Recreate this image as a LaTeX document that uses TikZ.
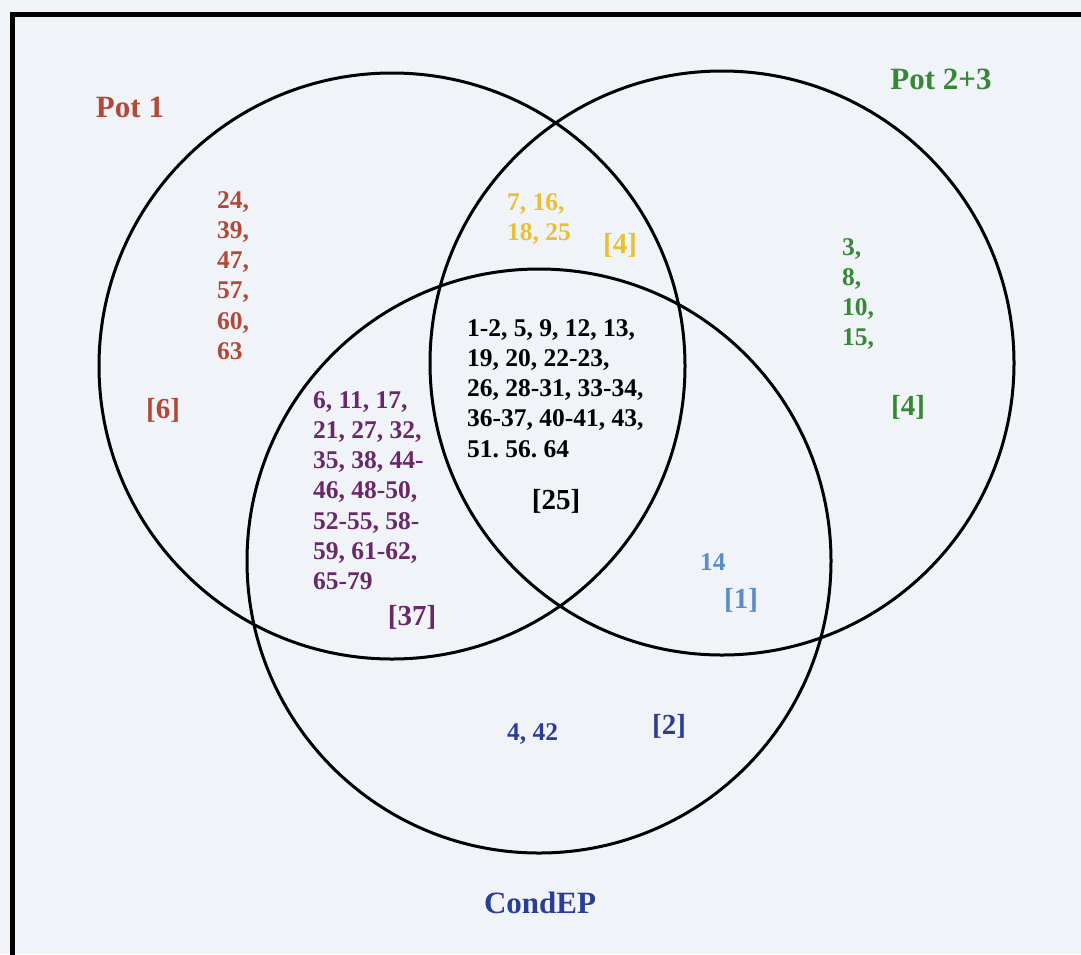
\documentclass[tikz,border=0pt]{standalone}
\usepackage{fontspec}
\setmainfont{Liberation Serif}
\frenchspacing
\definecolor{bgc}{RGB}{240,243,247}
\definecolor{potred}{RGB}{178,72,56}
\definecolor{potgold}{RGB}{232,192,52}
\definecolor{potpurple}{RGB}{105,40,105}
\definecolor{potgreen}{RGB}{55,135,55}
\definecolor{potlblue}{RGB}{90,140,200}
\definecolor{potblue}{RGB}{42,62,150}
\tikzset{
  vcircle/.style={circle, draw=black, line width=3pt, inner sep=0pt, minimum size=#1},
  setlabel/.style={font=\fontsize{31}{34}\selectfont\bfseries, inner sep=0pt},
  numlist/.style={font=\fontsize{25.5}{30.3}\selectfont\bfseries, inner sep=0pt, align=left, anchor=north west},
  countlabel/.style={font=\fontsize{29}{32}\selectfont\bfseries, inner sep=0pt},
  numone/.style={font=\fontsize{25.5}{30}\selectfont\bfseries, inner sep=0pt, anchor=base west}
}
\begin{document}
\begin{tikzpicture}[x=1pt, y=-1pt]
\useasboundingbox (0,0) rectangle (1081,954);
\fill[bgc] (0,0) rectangle (1081,954);
% frame
\coordinate (fbl) at (12,960);
\coordinate (ftl) at (12,14.5);
\coordinate (ftr) at (1090,14.5);
\draw[line width=5pt] (fbl) -- (ftl) -- (ftr);
% circles
\node[vcircle=586pt] (pot1c) at (392,366) {};
\node[vcircle=584pt] (pot23c) at (722,363) {};
\node[vcircle=584pt] (condc) at (539,561) {};
% set labels
\node[setlabel, text=potred] (lpot1) at (130,107) {Pot 1};
\node[setlabel, text=potgreen] (lpot23) at (941,79) {Pot 2+3};
\node[setlabel, text=potblue] (lcond) at (540,903) {CondEP};
% Pot 1 only
\node[numlist, text=potred] (n1) at (217,191) {24,\\39,\\47,\\57,\\60,\\63};
\node[countlabel, text=potred] (c1) at (163,410) {[6]};
% Pot 1 and Pot 2+3
\node[numlist, text=potgold] (n12) at (507,193) {7, 16,\\18, 25};
\node[countlabel, text=potgold] (c12) at (620,245) {[4]};
% all three
\node[numlist, text=black] (n123) at (467,319) {1-2, 5, 9, 12, 13,\\19, 20, 22-23,\\26, 28-31, 33-34,\\36-37, 40-41, 43,\\51. 56. 64};
\node[countlabel, text=black] (c123) at (556,501) {[25]};
% Pot 1 and CondEP
\node[numlist, text=potpurple] (n13) at (313,391) {6, 11, 17,\\21, 27, 32,\\35, 38, 44-\\46, 48-50,\\52-55, 58-\\59, 61-62,\\65-79};
\node[countlabel, text=potpurple] (c13) at (412,617) {[37]};
% Pot 2+3 only
\node[numlist, text=potgreen] (n2) at (842,238) {3,\\8,\\10,\\15,};
\node[countlabel, text=potgreen] (c2) at (908,407) {[4]};
% Pot 2+3 and CondEP
\node[numone, text=potlblue] (n23) at (700,570) {14};
\node[countlabel, text=potlblue] (c23) at (741,600) {[1]};
% CondEP only
\node[numone, text=potblue] (n3) at (507,740) {4, 42};
\node[countlabel, text=potblue] (c3) at (669,726) {[2]};
\end{tikzpicture}
\end{document}
